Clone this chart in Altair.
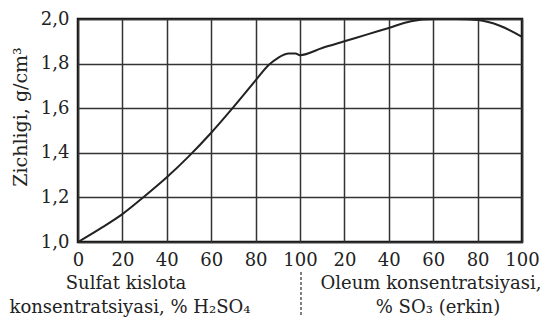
import altair as alt
import pandas as pd

# x: 0-100 = % H2SO4, 100-200 = oleum (100 + % free SO3)
conc = [0, 10, 20, 30, 40, 50, 60, 70, 80, 86, 90, 95, 98, 100,
        110, 120, 130, 140, 150, 160, 170, 180, 190, 200]
density = [1.00, 1.06, 1.125, 1.205, 1.29, 1.385, 1.49, 1.605, 1.725, 1.795, 1.825, 1.845, 1.845, 1.838,
           1.87, 1.90, 1.93, 1.96, 1.99, 2.00, 2.00, 1.995, 1.97, 1.92]

x_ticks = [0, 20, 40, 60, 80, 100, 120, 140, 160, 180, 200]
y_ticks = [1.0, 1.2, 1.4, 1.6, 1.8, 2.0]

y_title = "Zichligi, g/cm³"
left_title = ["Sulfat kislota", "konsentratsiyasi, % H₂SO₄"]
right_title = ["Oleum konsentratsiyasi,", "% SO₃ (erkin)"]

FONT = "DejaVu Serif"
FS = 18
W, H = 444, 223

df = pd.DataFrame({"conc": conc, "density": density})

x_enc = alt.X("conc:Q", scale=alt.Scale(domain=[0, 200], nice=False),
              axis=alt.Axis(values=x_ticks, title=None, ticks=False, domain=False,
                            labelExpr="datum.value <= 100 ? datum.value : datum.value - 100",
                            labelFont=FONT, labelFontSize=18, labelColor="#222",
                            labelPadding=9, labelOverlap=False, labelFlush=False,
                            gridColor="#333", gridWidth=1.5, gridOpacity=1))
y_enc = alt.Y("density:Q", scale=alt.Scale(domain=[1.0, 2.0], nice=False),
              axis=alt.Axis(values=y_ticks, title=None, ticks=False, domain=False,
                            labelExpr="replace(format(datum.value, '.1f'), '.', ',')",
                            labelFont=FONT, labelFontSize=18, labelColor="#222",
                            labelPadding=9, labelFlush=False,
                            gridColor="#333", gridWidth=1.5, gridOpacity=1))

curve = alt.Chart(df).mark_line(color="#222", strokeWidth=2, interpolate="monotone").encode(
    x=x_enc, y=y_enc)


def txt(s, x, y, align="center", angle=0, size=FS):
    return alt.Chart(pd.DataFrame({"t": [s]})).mark_text(
        font=FONT, fontSize=size, color="#222", align=align, baseline="middle", angle=angle
    ).encode(text="t:N", x=alt.value(x), y=alt.value(y))


texts = [
    txt(y_title, -57, 98, angle=270, size=19),
    txt(left_title[0], 48, 265),
    txt(left_title[1], 52, 289),
    txt(right_title[0], 353, 265),
    txt(right_title[1], 360, 289),
]

dash = alt.Chart(pd.DataFrame({"a": [0]})).mark_rule(
    color="#555", strokeWidth=1.5, strokeDash=[3, 2]
).encode(x=alt.value(223), y=alt.value(253), y2=alt.value(298))

chart = alt.layer(curve, dash, *texts).properties(
    width=W, height=H,
    autosize=alt.AutoSizeParams(type="none"),
    padding={"left": 70, "top": 11, "right": 26, "bottom": 78},
    background="white",
).configure_view(stroke="#111", strokeWidth=2.5)

chart.save("out.html", embed_options={"renderer": "svg", "actions": False})
